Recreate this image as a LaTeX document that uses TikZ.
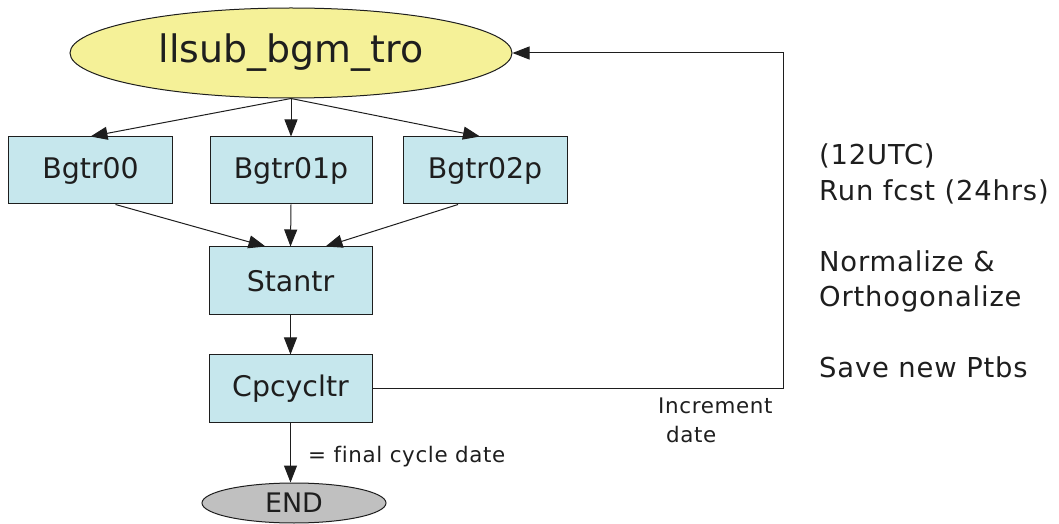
\documentclass[tikz,border=0pt]{standalone}
\usepackage{fontspec}
\setmainfont{DejaVu Sans}[Ligatures=NoCommon]
\newfontfamily\spacedsans{DejaVu Sans}[Ligatures=NoCommon,LetterSpace=3]
\usetikzlibrary{arrows.meta,shapes.geometric,calc}
\definecolor{boxblue}{RGB}{198,231,237}
\definecolor{topyellow}{RGB}{245,241,152}
\definecolor{endgray}{RGB}{192,192,192}
\definecolor{edgecol}{RGB}{30,30,30}
\definecolor{txt}{RGB}{30,30,30}
\begin{document}
\begin{tikzpicture}[x=1bp,y=-1bp,
  proc/.style={draw=edgecol, fill=boxblue, line width=1bp, rectangle, inner sep=0pt,
    minimum height=67bp, text=txt, font=\fontsize{28.5}{34}\selectfont},
  flow/.style={draw=edgecol, line width=1bp, -{Triangle[length=17bp,width=13bp]}},
  lab/.style={text=txt, inner sep=0pt}]
\useasboundingbox (0,0) rectangle (1059,524);
\node[ellipse, draw=edgecol, fill=topyellow, line width=1bp, minimum width=442bp, minimum height=90bp,
  inner sep=0pt, font=\fontsize{38}{44}\selectfont, text=txt] (top) at (291,53) {llsub\_bgm\_tro};
\node[proc, minimum width=163bp] (b0) at (90.5,170.5) {Bgtr00};
\node[proc, minimum width=162bp] (b1) at (291,170.5) {Bgtr01p};
\node[proc, minimum width=164bp] (b2) at (485,170.5) {Bgtr02p};
\node[proc, minimum width=163bp, minimum height=68bp] (st) at (290.5,281) {Stantr};
\node[proc, minimum width=163bp] (cp) at (290.5,388.5) {Cpcycltr};
\node[ellipse, draw=edgecol, fill=endgray, line width=1bp, minimum width=184bp, minimum height=40bp,
  inner sep=0pt, font=\fontsize{27}{32}\selectfont, text=txt] (end) at (294,503) {END};
\coordinate (c1) at (783,388.5);
\coordinate (c2) at (783,53);
\draw[flow] (top.south) -- (b0.north);
\draw[flow] (top.south) -- (b1.north);
\draw[flow] (top.south) -- ($(b2.north)+(-5,0)$);
\draw[flow] ($(b0.south)+(25,0)$) -- ($(st.north)+(-25,0)$);
\draw[flow] (b1.south) -- (st.north);
\draw[flow] ($(b2.south)+(-27,0)$) -- ($(st.north)+(35,0)$);
\draw[flow] (st.south) -- (cp.north);
\draw[flow] (cp.south) -- (cp.south |- end.north);
\draw[flow] (cp.east) -- (c1) -- (c2) -- (top.east);
\node[lab, anchor=base west, font=\spacedsans\fontsize{21.5}{26}\selectfont] (fin) at (308,462) {= final cycle date};
\node[lab, anchor=base west, align=left, font=\spacedsans\fontsize{21.5}{29}\selectfont] (inc) at (658,442)
  {Increment\\\hspace*{8bp}date};
\node[lab, anchor=base west, align=left, font=\spacedsans\fontsize{27.5}{35.6}\selectfont] (notes) at (819,378)
  {(12UTC)\\Run fcst (24hrs)\\[35.6bp]Normalize \&\\Orthogonalize\\[35.6bp]Save new Ptbs};
\end{tikzpicture}
\end{document}
